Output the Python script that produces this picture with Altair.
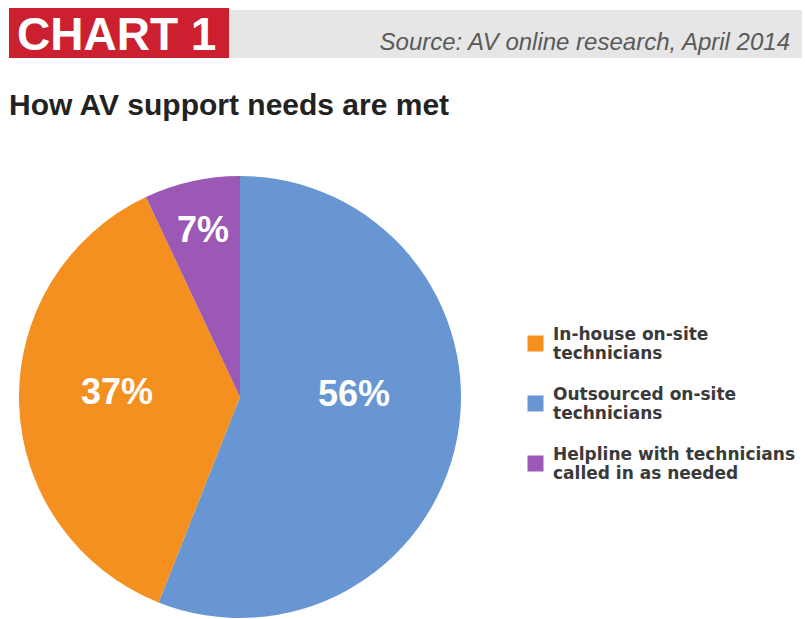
import altair as alt
import pandas as pd

categories = ["Outsourced on-site technicians", "In-house on-site technicians",
              "Helpline with technicians called in as needed"]
legend_order = ["In-house on-site technicians", "Outsourced on-site technicians",
                "Helpline with technicians called in as needed"]
values = [56, 37, 7]
labels = ["56%", "37%", "7%"]
legend_colors = ["#f3901f", "#6796d2", "#9b58b5"]

df = pd.DataFrame({"category": categories, "value": values, "label": labels,
                   "order": [0, 1, 2]})

W, H = 805, 619
CX, CY, R = 240, 397, 221
FONT = "Liberation Sans Narrow, Liberation Sans, sans-serif"
TWO_PI = 6.283185307179586

color = alt.Color("category:N",
                  scale=alt.Scale(domain=legend_order, range=legend_colors),
                  legend=alt.Legend(title=None, orient="none", legendX=527, legendY=335,
                                    symbolType="square", symbolSize=256,
                                    symbolStrokeWidth=0, symbolOpacity=1,
                                    labelFont="DejaVu Sans, sans-serif",
                                    labelFontSize=17, labelFontWeight="bold",
                                    labelBaseline="bottom",
                                    labelColor="#3a3a3a", labelLimit=400,
                                    labelOffset=9, rowPadding=23,
                                    labelExpr="datum.label == 'In-house on-site technicians' ? ['In-house on-site', 'technicians'] : datum.label == 'Outsourced on-site technicians' ? ['Outsourced on-site', 'technicians'] : ['Helpline with technicians', 'called in as needed']"))

base = alt.Chart(df)

pie = base.mark_arc(radius=R, stroke=None).encode(
    theta=alt.Theta("value:Q", stack=True),
    color=color,
    order=alt.Order("order:Q"),
    x=alt.value(CX), y=alt.value(CY),
)

label_base = base.transform_window(
    cum="sum(value)", sort=[alt.SortField("order")]
).transform_calculate(mid="datum.cum - datum.value / 2")

# per-label radius and vertical nudge (style only)
label_style = {"56%": (116, -24), "37%": (123, -8), "7%": (170, 0)}
text_layers = []
for lab, (rad, dy) in label_style.items():
    text_layers.append(
        label_base.transform_filter(alt.datum.label == lab).mark_text(
            fontSize=36, fontWeight="bold", color="white", radius=rad, dy=dy,
            font="Liberation Sans, sans-serif").encode(
            theta=alt.Theta("mid:Q", scale=alt.Scale(domain=[0, 100], range=[0, TWO_PI])),
            text="label:N",
            x=alt.value(CX), y=alt.value(CY),
        )
    )

deco = alt.Chart(pd.DataFrame({"a": [0]}))
gray_bar = deco.mark_rect(color="#e6e6e6").encode(
    x=alt.value(228), x2=alt.value(802), y=alt.value(10), y2=alt.value(58))
red_box = deco.mark_rect(color="#cc1f2f").encode(
    x=alt.value(9), x2=alt.value(229), y=alt.value(8), y2=alt.value(58))
chart_txt = deco.mark_text(text="CHART 1", font=FONT, fontSize=46, fontWeight="bold",
                           color="white", align="left", baseline="alphabetic").encode(
    x=alt.value(17), y=alt.value(50))
src_txt = deco.mark_text(text="Source: AV online research, April 2014", font=FONT,
                         fontSize=24, fontStyle="italic", color="#5a5a5a",
                         align="right", baseline="alphabetic").encode(
    x=alt.value(790), y=alt.value(50))
title_txt = deco.mark_text(text="How AV support needs are met", font=FONT, fontSize=30,
                           fontWeight="bold", color="#222222", align="left",
                           baseline="alphabetic").encode(
    x=alt.value(9), y=alt.value(115))

chart = alt.layer(gray_bar, red_box, chart_txt, src_txt, title_txt, pie, *text_layers).properties(
    width=W, height=H, padding=0, autosize=alt.AutoSizeParams(type="none"),
    background="white"
).configure_view(stroke=None)

chart.save("out.html", embed_options={"renderer": "svg", "actions": False})
